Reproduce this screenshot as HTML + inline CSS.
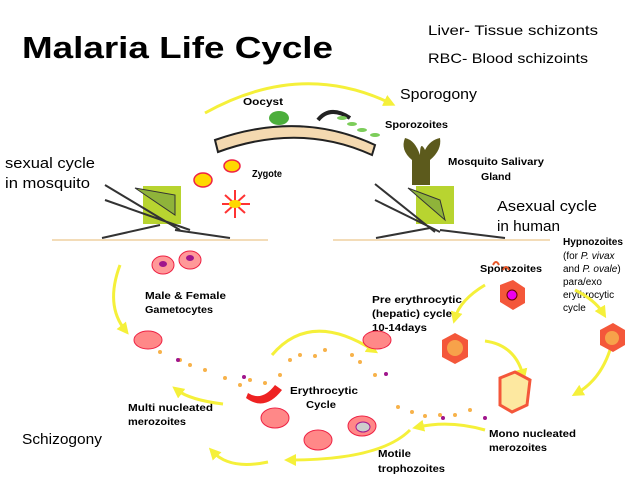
<!DOCTYPE html>
<html><head><meta charset="utf-8"><style>
body{margin:0;background:#fff}
svg{display:block}
text{font-family:"Liberation Sans",sans-serif;fill:#000}
.b{font-weight:bold;font-size:10px}
.m{font-size:15px}
</style></head><body>
<svg width="638" height="479" viewBox="0 0 638 479" xmlns="http://www.w3.org/2000/svg">
<defs>
<marker id="a" markerUnits="userSpaceOnUse" markerWidth="12" markerHeight="12" refX="6" refY="6" orient="auto"><path d="M0,0L12,6L0,12z" fill="#f5f03a"/></marker>
</defs>
<text x="22" y="58" font-size="31" font-weight="bold" textLength="311" lengthAdjust="spacingAndGlyphs">Malaria Life Cycle</text>
<text x="428" y="35" font-size="14" textLength="170" lengthAdjust="spacingAndGlyphs">Liver- Tissue schizonts</text>
<text x="428" y="63" font-size="14" textLength="160" lengthAdjust="spacingAndGlyphs">RBC- Blood schizoints</text>
<text x="400" y="99" class="m" textLength="77" lengthAdjust="spacingAndGlyphs">Sporogony</text>
<text x="5" y="168" class="m" textLength="90" lengthAdjust="spacingAndGlyphs">sexual cycle</text>
<text x="5" y="188" class="m" textLength="85" lengthAdjust="spacingAndGlyphs">in mosquito</text>
<text x="497" y="211" class="m" textLength="100" lengthAdjust="spacingAndGlyphs">Asexual cycle</text>
<text x="497" y="231" class="m" textLength="63" lengthAdjust="spacingAndGlyphs">in human</text>
<text x="22" y="444" class="m" textLength="80" lengthAdjust="spacingAndGlyphs">Schizogony</text>
<text x="243" y="105" class="b" textLength="40" lengthAdjust="spacingAndGlyphs">Oocyst</text>
<text x="385" y="128" class="b" textLength="63" lengthAdjust="spacingAndGlyphs">Sporozoites</text>
<text x="252" y="177" class="b" textLength="30" lengthAdjust="spacingAndGlyphs">Zygote</text>
<text x="448" y="165" class="b" textLength="96" lengthAdjust="spacingAndGlyphs">Mosquito Salivary</text>
<text x="481" y="180" class="b" textLength="30" lengthAdjust="spacingAndGlyphs">Gland</text>
<text x="563" y="245" class="b" textLength="60" lengthAdjust="spacingAndGlyphs">Hypnozoites</text>
<g font-size="10"><text x="563" y="259">(for <tspan font-style="italic">P. vivax</tspan></text><text x="563" y="272">and <tspan font-style="italic">P. ovale</tspan>)</text><text x="563" y="285">para/exo</text><text x="563" y="298">erythrocytic</text><text x="563" y="311">cycle</text></g>
<text x="480" y="272" class="b" textLength="62" lengthAdjust="spacingAndGlyphs">Sporozoites</text>
<text x="145" y="299" class="b" textLength="81" lengthAdjust="spacingAndGlyphs">Male &amp; Female</text><text x="145" y="313" class="b" textLength="68" lengthAdjust="spacingAndGlyphs">Gametocytes</text>
<text x="372" y="303" class="b" textLength="90" lengthAdjust="spacingAndGlyphs">Pre erythrocytic</text><text x="372" y="317" class="b" textLength="80" lengthAdjust="spacingAndGlyphs">(hepatic) cycle</text><text x="372" y="331" class="b" textLength="55" lengthAdjust="spacingAndGlyphs">10-14days</text>
<text x="290" y="394" class="b" textLength="68" lengthAdjust="spacingAndGlyphs">Erythrocytic</text><text x="306" y="408" class="b" textLength="30" lengthAdjust="spacingAndGlyphs">Cycle</text>
<text x="128" y="411" class="b" textLength="85" lengthAdjust="spacingAndGlyphs">Multi nucleated</text><text x="128" y="425" class="b" textLength="58" lengthAdjust="spacingAndGlyphs">merozoites</text>
<text x="489" y="437" class="b" textLength="87" lengthAdjust="spacingAndGlyphs">Mono nucleated</text><text x="489" y="451" class="b" textLength="58" lengthAdjust="spacingAndGlyphs">merozoites</text>
<text x="378" y="457" class="b" textLength="33" lengthAdjust="spacingAndGlyphs">Motile</text><text x="378" y="472" class="b" textLength="67" lengthAdjust="spacingAndGlyphs">trophozoites</text>
<line x1="52" y1="240" x2="268" y2="240" stroke="#f3dcb8" stroke-width="2"/>
<line x1="333" y1="240" x2="550" y2="240" stroke="#f3dcb8" stroke-width="2"/>
<g fill="none" stroke="#f5f03a" stroke-width="3" marker-end="url(#a)">
<path d="M205,113 Q300,60 390,103"/>
<path d="M120,265 Q105,305 125,330"/>
<path d="M223,404 Q190,400 177,390"/>
<path d="M268,462 Q230,470 213,452"/>
<path d="M272,355 Q310,310 373,350"/>
<path d="M410,430 Q380,460 290,460"/>
<path d="M485,430 Q450,420 418,427"/>
<path d="M485,285 Q460,300 455,318"/>
<path d="M485,341 Q515,345 523,375"/>
<path d="M575,290 Q595,300 603,313"/>
<path d="M610,350 Q600,380 577,393"/>
</g>
<path d="M215,140 Q300,110 375,145 L372,155 Q300,122 218,152z" fill="#f4d9b0" stroke="#222" stroke-width="2"/>
<ellipse cx="279" cy="118" rx="10" ry="7" fill="#4cae3c"/>
<path d="M318,120 Q330,105 350,118" fill="none" stroke="#222" stroke-width="4"/>
<g fill="#7ccd5a"><ellipse cx="342" cy="118" rx="5" ry="2"/><ellipse cx="352" cy="124" rx="5" ry="2"/><ellipse cx="362" cy="130" rx="5" ry="2"/><ellipse cx="375" cy="135" rx="5" ry="2"/></g>
<ellipse cx="232" cy="166" rx="8" ry="6" fill="#ffd800" stroke="#e24" stroke-width="1.5"/>
<ellipse cx="203" cy="180" rx="9" ry="7" fill="#ffd800" stroke="#e24" stroke-width="1.5"/>
<g stroke="#f33" stroke-width="2"><line x1="225" y1="195" x2="245" y2="213"/><line x1="245" y1="195" x2="225" y2="213"/><line x1="222" y1="204" x2="250" y2="204"/><line x1="235" y1="190" x2="235" y2="218"/></g>
<ellipse cx="235" cy="204" rx="6" ry="4" fill="#ffd800"/>
<g>
<rect x="143" y="186" width="38" height="38" fill="#b8d430"/>
<path d="M105,185 L180,230 M105,200 L190,230 M102,238 L160,225 M175,230 L230,238" stroke="#333" stroke-width="2" fill="none"/>
<path d="M135,188 L175,215 L175,195z" fill="#8fb33a" stroke="#333"/>
<rect x="416" y="186" width="38" height="38" fill="#b8d430"/>
<path d="M375,184 L435,232 M375,200 L440,232 M376,238 L430,228 M440,230 L505,238" stroke="#333" stroke-width="2" fill="none"/>
<path d="M408,188 L445,220 L440,200z" fill="#8fb33a" stroke="#333"/>
<path d="M412,185 L412,160 Q400,150 405,138 Q415,140 420,155 Q420,140 425,150 Q430,140 440,138 Q442,150 430,160 L430,185z" fill="#5c5a1c"/>
</g>
<ellipse cx="163" cy="265" rx="11" ry="9" fill="#f99" stroke="#e24"/><ellipse cx="163" cy="264" rx="4" ry="3" fill="#a0158c"/>
<ellipse cx="190" cy="260" rx="11" ry="9" fill="#f99" stroke="#e24"/><ellipse cx="190" cy="258" rx="4" ry="3" fill="#a0158c"/>
<ellipse cx="148" cy="340" rx="14" ry="9" fill="#f88" stroke="#e24"/>
<ellipse cx="377" cy="340" rx="14" ry="9" fill="#f88" stroke="#e24"/>
<path d="M248,393 Q262,402 275,385 L282,390 Q265,412 246,398z" fill="#e22"/>
<ellipse cx="275" cy="418" rx="14" ry="10" fill="#f88" stroke="#e24"/>
<ellipse cx="318" cy="440" rx="14" ry="10" fill="#f88" stroke="#e24"/>
<ellipse cx="362" cy="426" rx="14" ry="10" fill="#f88" stroke="#e24"/><ellipse cx="363" cy="427" rx="7" ry="5" fill="#ccc" stroke="#a0158c"/>
<g fill="#f7b24a">
<circle cx="160" cy="352" r="2"/><circle cx="180" cy="360" r="2"/><circle cx="190" cy="365" r="2"/><circle cx="205" cy="370" r="2"/><circle cx="225" cy="378" r="2"/><circle cx="240" cy="385" r="2"/><circle cx="250" cy="380" r="2"/><circle cx="265" cy="383" r="2"/><circle cx="280" cy="375" r="2"/><circle cx="290" cy="360" r="2"/><circle cx="300" cy="355" r="2"/><circle cx="315" cy="356" r="2"/><circle cx="325" cy="350" r="2"/><circle cx="352" cy="355" r="2"/><circle cx="360" cy="362" r="2"/><circle cx="375" cy="375" r="2"/><circle cx="398" cy="407" r="2"/><circle cx="412" cy="412" r="2"/><circle cx="425" cy="416" r="2"/><circle cx="440" cy="415" r="2"/><circle cx="455" cy="415" r="2"/><circle cx="470" cy="410" r="2"/>
</g>
<g fill="#a0158c"><circle cx="178" cy="360" r="2"/><circle cx="244" cy="377" r="2"/><circle cx="386" cy="374" r="2"/><circle cx="443" cy="418" r="2"/><circle cx="485" cy="418" r="2"/></g>
<g fill="#f4573a">
<polygon points="500,285 513,280 525,288 525,303 513,310 500,302"/>
<polygon points="442,340 455,333 468,340 468,357 455,364 442,357"/>
<polygon points="600,330 613,323 625,330 625,345 613,352 600,345"/>
</g>
<circle cx="512" cy="295" r="5" fill="#e0e" stroke="#600"/>
<circle cx="455" cy="348" r="8" fill="#f7a24a"/><circle cx="612" cy="338" r="7" fill="#f7a24a"/>
<polygon points="500,378 515,372 530,380 527,405 512,412 500,405" fill="#fde8a0" stroke="#f4573a" stroke-width="3"/>
<path d="M493,265 q3,-6 6,0 M503,270 q3,-6 6,0" stroke="#e8582a" fill="none" stroke-width="2"/>
</svg>
</body></html>
